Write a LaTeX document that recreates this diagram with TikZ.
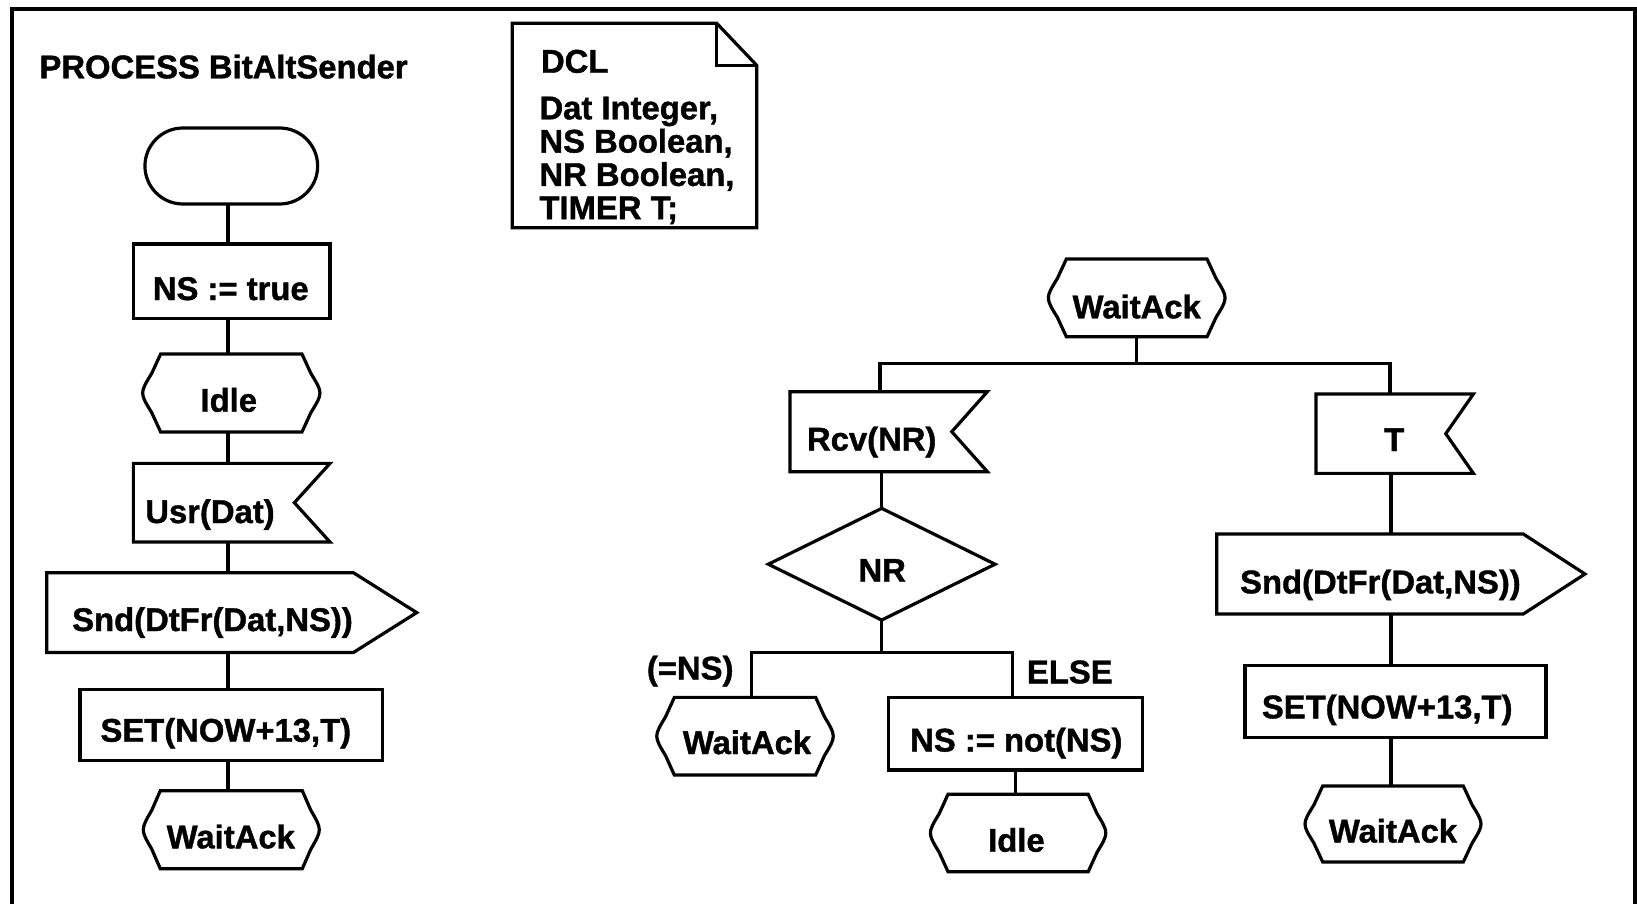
\documentclass[tikz,border=0pt]{standalone}
\usepackage{fontspec}
\setmainfont{Liberation Sans}[BoldFeatures={FakeBold=1.2}]
\usetikzlibrary{calc}

% SDL symbol outlines, drawn around an empty rectangular node
\newcommand\drawstate[2]{% #1 node, #2 corner inset
  \draw[shapeline]
    ($(#1.north west)+(#2,0)$) -- ($(#1.north east)+(-#2,0)$)
    -- ($(#1.north east)!0.5!(#1.east)+(-#2/2,0)$)
    .. controls ($(#1.east)+(#2/6,0)$) ..
    ($(#1.south east)!0.5!(#1.east)+(-#2/2,0)$)
    -- ($(#1.south east)+(-#2,0)$) -- ($(#1.south west)+(#2,0)$)
    -- ($(#1.south west)!0.5!(#1.west)+(#2/2,0)$)
    .. controls ($(#1.west)+(-#2/6,0)$) ..
    ($(#1.north west)!0.5!(#1.west)+(#2/2,0)$) -- cycle;}
\newcommand\drawinput[2]{% #1 node, #2 notch depth
  \draw[shapeline] (#1.north west) -- (#1.north east)
    -- ($(#1.east)+(-#2,0)$) -- (#1.south east) -- (#1.south west) -- cycle;}
\newcommand\drawoutput[2]{% #1 node, #2 arrow depth
  \draw[shapeline] (#1.north west) -- ($(#1.north east)+(-#2,0)$)
    -- (#1.east) -- ($(#1.south east)+(-#2,0)$) -- (#1.south west) -- cycle;}
\newcommand\drawdecision[1]{%
  \draw[shapeline] (#1.north) -- (#1.east) -- (#1.south) -- (#1.west) -- cycle;}
\newcommand\drawnote[3]{% #1 node, #2 fold width, #3 fold height
  \draw[shapeline] (#1.north west) -- ($(#1.north east)+(-#2,0)$)
    -- ($(#1.north east)+(0,#3)$) -- (#1.south east) -- (#1.south west) -- cycle;
  \draw[shapeline] ($(#1.north east)+(-#2,0)$) -- ($(#1.north east)+(-#2,#3)$)
    -- ($(#1.north east)+(0,#3)$);}

\tikzset{
  shapeline/.style={line width=1.6pt, line join=miter},
  wire/.style={line width=1.6pt, line join=miter},
  frameline/.style={line width=1.8pt, line join=miter},
  sdl/.style={rectangle, draw=none, inner sep=0pt, outer sep=0pt},
  boxsize/.style 2 args={minimum width=#1*0.5pt, minimum height=#2*0.5pt},
  taskbox/.style={sdl, draw, line width=1.6pt},
  termbox/.style={sdl, draw, line width=1.6pt, rounded corners=19pt},
  txt/.style={inner sep=0pt, outer sep=0pt, anchor=base,
    font=\fontsize{16.4pt}{16.65pt}\selectfont\bfseries},
}

\begin{document}
\begin{tikzpicture}[x=0.5pt, y=-0.5pt]
\useasboundingbox (0,0) rectangle (1637,904);

% frame (open at the bottom)
\draw[frameline] (12,904) -- (12,9) -- (1635,9) -- (1635,904);

\node[txt, anchor=base west] (title) at (39.5,78.3) {PROCESS BitAltSender};

% declarations
\node[sdl, boxsize={244.4}{204.4}] (dcl) at (634.5,125.5) {};
\drawnote{dcl}{40}{42}
\node[txt, anchor=base west] (dclhead) at (541,72.7) {DCL};
\node[txt, anchor=north west, align=left] (dclbody) at (539.5,96.7)
  {Dat Integer,\\NS Boolean,\\NR Boolean,\\TIMER T;};

% trunk lines and branch buses
\coordinate (trunkL) at (228,0);
\coordinate (trunkR) at (1391,0);
\coordinate (busL) at (880,363.3);
\coordinate (busR) at (1390,363.3);
\coordinate (bus2L) at (751.5,652.5);
\coordinate (bus2R) at (1012.1,652.5);

% start transition
\node[termbox, boxsize={172.7}{76}] (start) at (231.3,166) {};
\node[taskbox, boxsize={196.7}{74.3}] (nstrue) at (231.7,281.2) {};
\node[sdl, boxsize={177.3}{78}] (idleA) at (231.3,393) {};
\drawstate{idleA}{18}
\node[sdl, boxsize={196.7}{78.7}] (usr) at (231.7,502.7) {};
\drawinput{usr}{35.7}
\node[sdl, boxsize={370}{79.8}] (sndA) at (231.7,612.6) {};
\drawoutput{sndA}{63.3}
\node[taskbox, boxsize={302.3}{71.4}] (setA) at (231.2,725) {};
\node[sdl, boxsize={176}{78}] (waitA) at (231.3,829.7) {};
\drawstate{waitA}{17}

\node[txt] (t-nstrue) at (230.8,300) {NS := true};
\node[txt] (t-idleA) at (228.8,411.7) {Idle};
\node[txt] (t-usr) at (210,523) {Usr(Dat)};
\node[txt] (t-sndA) at (212.5,631) {Snd(DtFr(Dat,NS))};
\node[txt] (t-setA) at (225.8,741.7) {SET(NOW+13,T)};
\node[txt] (t-waitA) at (230.8,848.3) {WaitAck};

\foreach \a/\b in {start/nstrue, nstrue/idleA, idleA/usr, usr/sndA, sndA/setA, setA/waitA}
  \draw[wire] (\a.south -| trunkL) -- (\b.north -| trunkL);

% state WaitAck
\node[sdl, boxsize={176.7}{77.7}] (waitB) at (1136.7,297.9) {};
\drawstate{waitB}{18}
\node[sdl, boxsize={197.3}{80}] (rcv) at (888.7,431.7) {};
\drawinput{rcv}{35.6}
\node[sdl, boxsize={226.7}{111.7}] (nr) at (881.7,564.2) {};
\drawdecision{nr}
\node[sdl, boxsize={176.5}{77.7}] (waitC) at (745,736.2) {};
\drawstate{waitC}{17.6}
\node[taskbox, boxsize={254.3}{72.3}] (notns) at (1015.5,733.8) {};
\node[sdl, boxsize={175.4}{77.4}] (idleB) at (1018.1,833) {};
\drawstate{idleB}{17.6}
\node[sdl, boxsize={157.3}{79.3}] (tin) at (1394.7,433.7) {};
\drawinput{tin}{27.6}
\node[sdl, boxsize={368.3}{80}] (sndB) at (1400.8,574) {};
\drawoutput{sndB}{61.7}
\node[taskbox, boxsize={301}{72}] (setB) at (1395.5,701.7) {};
\node[sdl, boxsize={176}{76}] (waitD) at (1393,824) {};
\drawstate{waitD}{17.7}

\node[txt] (t-waitB) at (1136.7,318.3) {WaitAck};
\node[txt] (t-rcv) at (871.7,450.5) {Rcv(NR)};
\node[txt] (t-nr) at (882.2,581.7) {NR};
\node[txt] (t-eqns) at (690.2,679.5) {(=NS)};
\node[txt] (t-else) at (1069.8,683.3) {ELSE};
\node[txt] (t-waitC) at (747,754) {WaitAck};
\node[txt] (t-notns) at (1016.3,751.5) {NS := not(NS)};
\node[txt] (t-idleB) at (1016.4,851.7) {Idle};
\node[txt] (t-tin) at (1394.2,451) {T};
\node[txt] (t-sndB) at (1380.4,593.3) {Snd(DtFr(Dat,NS))};
\node[txt] (t-setB) at (1387.2,718.3) {SET(NOW+13,T)};
\node[txt] (t-waitD) at (1393,842.5) {WaitAck};

\draw[wire] (waitB.south) -- (waitB.south |- busL);
\draw[wire] (rcv.north -| busL) -- (busL) -- (busR) -- (tin.north -| busR);
\draw[wire] (rcv.south -| nr.north) -- (nr.north);
\draw[wire] (nr.south) -- (nr.south |- bus2L);
\draw[wire] (waitC.north -| bus2L) -- (bus2L) -- (bus2R) -- (notns.north -| bus2R);
\draw[wire] (notns.south) -- (notns.south |- idleB.north);
\foreach \a/\b in {tin/sndB, sndB/setB, setB/waitD}
  \draw[wire] (\a.south -| trunkR) -- (\b.north -| trunkR);
\end{tikzpicture}
\end{document}
